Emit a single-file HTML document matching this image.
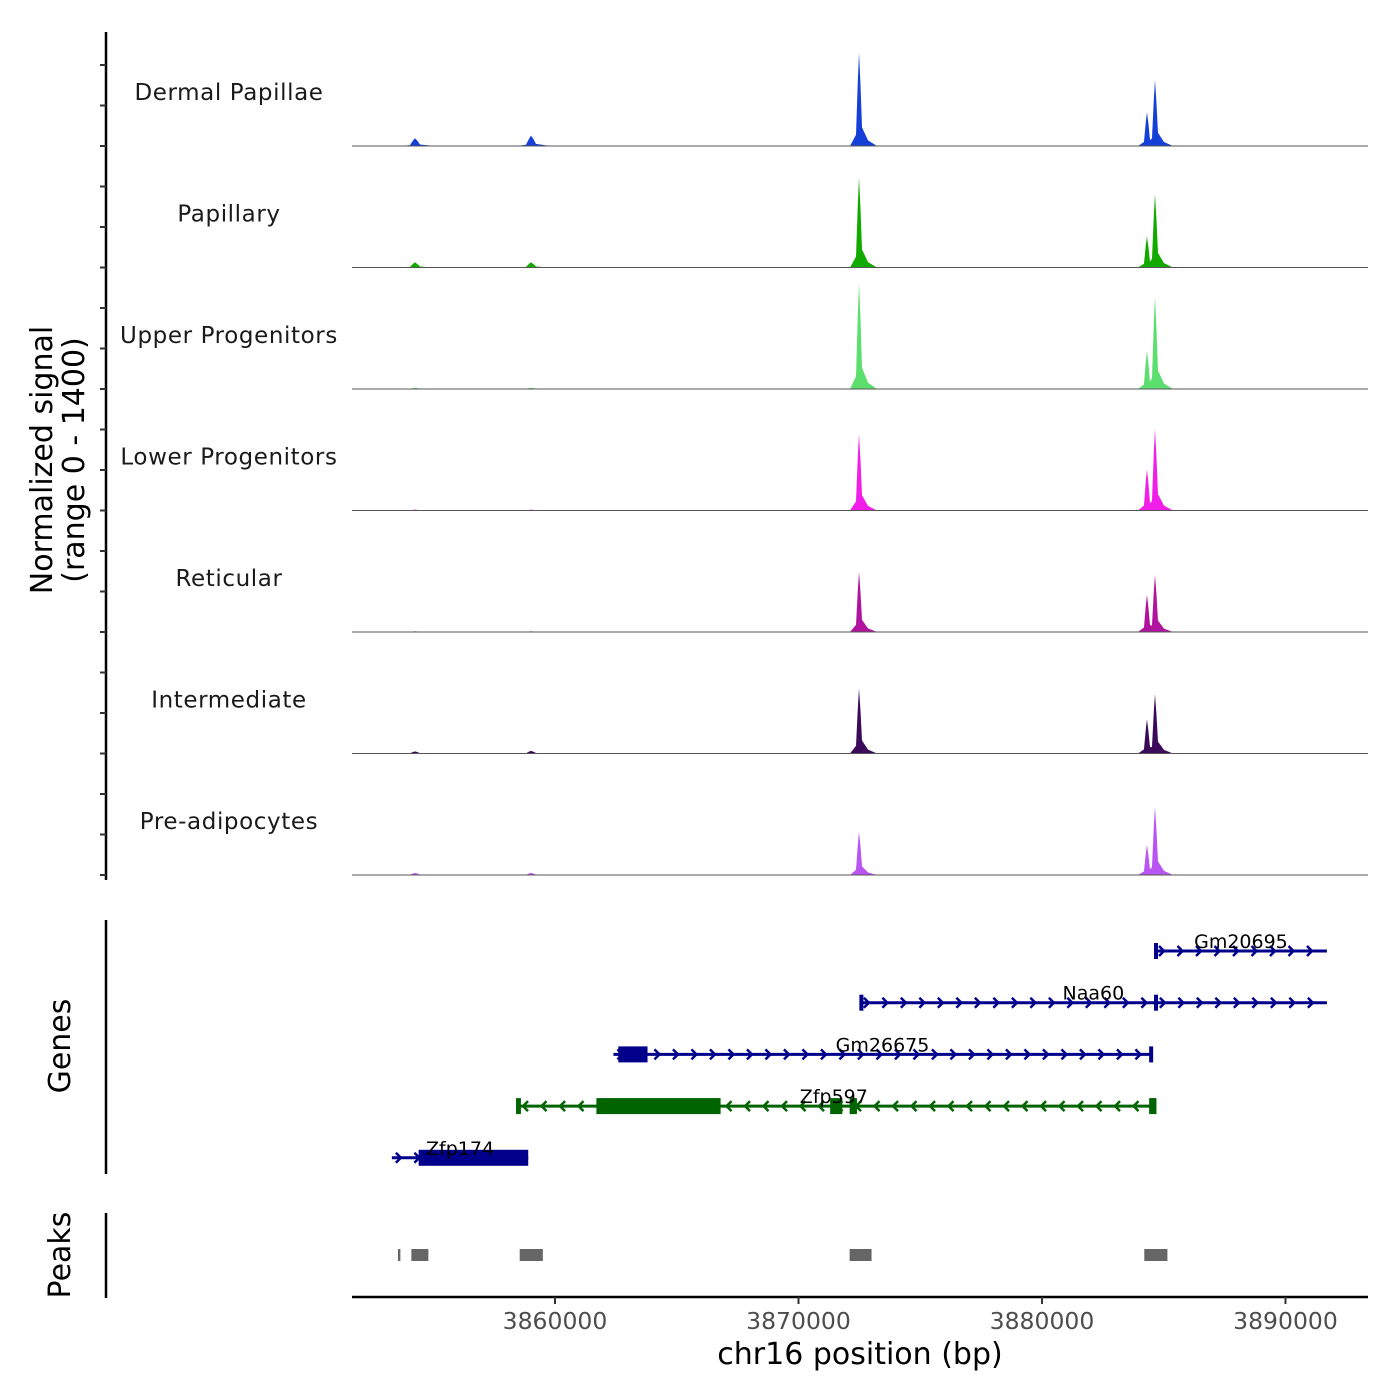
<!DOCTYPE html>
<html><head><meta charset="utf-8"><style>
body{margin:0;background:#fff}
svg{display:block;font-family:"DejaVu Sans","Liberation Sans",sans-serif}
</style></head><body>
<svg id="c" width="1400" height="1400" viewBox="0 0 1400 1400"></svg>
<script>
const trackNames=["Dermal Papillae","Papillary","Upper Progenitors","Lower Progenitors","Reticular","Intermediate","Pre-adipocytes"];
const trackColors=["#1540d8","#13aa00","#5ddf70","#f01ee8","#b0149f","#3b0b5a","#b955f2"];
const peakPositions=[3854250,3859015,3872485,3884310,3884640];
const signalDermal=[90,120,1076,390,760];
const signalPapillary=[60,60,1040,360,845];
const signalUpper=[15,15,1225,440,1065];
const signalLower=[10,10,880,475,940];
const signalReticular=[8,8,695,430,660];
const signalIntermediate=[25,30,750,395,685];
const signalPreadipocytes=[25,25,500,345,785];
const signals=[signalDermal,signalPapillary,signalUpper,signalLower,signalReticular,signalIntermediate,signalPreadipocytes];
const genes=["Gm20695","Naa60","Gm26675","Zfp597","Zfp174"];
const geneStart=[3884640,3872520,3862400,3858400,3853300];
const geneEnd=[3891700,3891700,3884500,3884500,3858900];
const geneStrand=[1,1,1,-1,1];
const geneRow=[0,1,2,3,4];
const geneExons=[[[3884600,3884700]],[[3872500,3872650],[3884600,3884750]],[[3862600,3863800],[3884400,3884500]],[[3858400,3858600],[3861700,3866800],[3871300,3871800],[3872100,3872400],[3884400,3884700]],[[3854400,3858900]]];
const geneColors=["#00008b","#00008b","#00008b","#006400","#00008b"];
const peakStart=[3853550,3854100,3858550,3872100,3884200];
const peakEnd=[3853650,3854800,3859500,3873000,3885150];
const xTicks=[3860000,3870000,3880000,3890000];

const S=document.getElementById('c');const NS="http://www.w3.org/2000/svg";
function mk(t,a,p){const e=document.createElementNS(NS,t);for(const k in a)e.setAttribute(k,a[k]);(p||S).appendChild(e);return e;}
const X0=3851663,PXPB=0.02435,L=352,R=1368;
const x=b=>L+(b-X0)*PXPB;
const TH=121.5,B0=146;
const y=(v,i)=>B0+i*TH-v/1400*TH;

let ax=mk('line',{x1:106,y1:32,x2:106,y2:880,stroke:'#000','stroke-width':2.5});

for(let k=0;k<=21;k++){const yt=875-k*40.5;if(yt<60)break;
 const t=mk('line',{x1:100,y1:yt,x2:106,y2:yt,stroke:'#333','stroke-width':2});
 }
let yt1=mk('text',{x:52,y:460,'font-size':30,'text-anchor':'middle',transform:'rotate(-90 52 460)'});yt1.textContent='Normalized signal';

let yt2=mk('text',{x:84,y:460,'font-size':30,'text-anchor':'middle',transform:'rotate(-90 84 460)'});yt2.textContent='(range 0 - 1400)';


trackNames.forEach((n,i)=>{
 const g=mk('g',{});
 const base=B0+i*TH;
 const lab=mk('text',{x:229,y:base-46,'font-size':23,'text-anchor':'middle',fill:'#1a1a1a','letter-spacing':'0.6'},g);lab.textContent=n;
 
 signals[i].forEach((v,j)=>{
  const px=x(peakPositions[j]),top=y(v,i);const w=j>=2?3:5;
  const d=`M${px-w*3} ${base} L${px-w} ${base-(base-top)*0.12} L${px-w*0.4} ${top+ (base-top)*0.3} L${px} ${top} L${px+w*0.5} ${top+(base-top)*0.35} L${px+w} ${base-(base-top)*0.2} L${px+w*3} ${base-(base-top)*0.06} L${px+w*6} ${base}Z`;
  const p=mk('path',{d:d,fill:trackColors[i]},g);
  
 });
 const bl=mk('line',{x1:L,y1:base,x2:R,y2:base,stroke:'#555','stroke-width':1},g);
 
});

let ga=mk('line',{x1:106,y1:920,x2:106,y2:1174,stroke:'#000','stroke-width':2.5});

let gl=mk('text',{x:70,y:1046,'font-size':30,'text-anchor':'middle',transform:'rotate(-90 70 1046)'});gl.textContent='Genes';

genes.forEach((n,i)=>{
 const g=mk('g',{});
 const gy=951+geneRow[i]*51.7,c=geneColors[i],x1=x(geneStart[i]),x2=x(geneEnd[i]);
 mk('line',{x1:x1,y1:gy,x2:x2,y2:gy,stroke:c,'stroke-width':3},g);
 for(let ax2=x1+8;ax2<x2-4;ax2+=18.5){const s=geneStrand[i];
  mk('polyline',{points:`${ax2-4*s} ${gy-5} ${ax2+1*s} ${gy} ${ax2-4*s} ${gy+5}`,fill:'none',stroke:c,'stroke-width':2.5},g);}
 geneExons[i].forEach(e=>{const a=x(e[0]),b=x(e[1]);mk('rect',{x:a,y:gy-8,width:Math.max(b-a,4),height:16,fill:c},g);});
 const t=mk('text',{x:(x1+x2)/2,y:gy-3,'font-size':19,'text-anchor':'middle',fill:'#000'},g);t.textContent=n;
 
});

let pa=mk('line',{x1:106,y1:1213,x2:106,y2:1298,stroke:'#000','stroke-width':2.5});

let pl=mk('text',{x:70,y:1255,'font-size':30,'text-anchor':'middle',transform:'rotate(-90 70 1255)'});pl.textContent='Peaks';

peakStart.forEach((s,i)=>{const r=mk('rect',{x:x(s),y:1249,width:x(peakEnd[i])-x(s),height:12,fill:'#666'});
 });

let xa=mk('line',{x1:L,y1:1297,x2:R,y2:1297,stroke:'#000','stroke-width':2.5});

xTicks.forEach(v=>{const t=mk('line',{x1:x(v),y1:1297,x2:x(v),y2:1304,stroke:'#333','stroke-width':2});
 
 const l=mk('text',{x:x(v),y:1329,'font-size':23.5,'text-anchor':'middle',fill:'#4d4d4d'});l.textContent=v;
 });
let xt=mk('text',{x:860,y:1364,'font-size':30,'text-anchor':'middle'});xt.textContent='chr16 position (bp)';

</script>
</body></html>
